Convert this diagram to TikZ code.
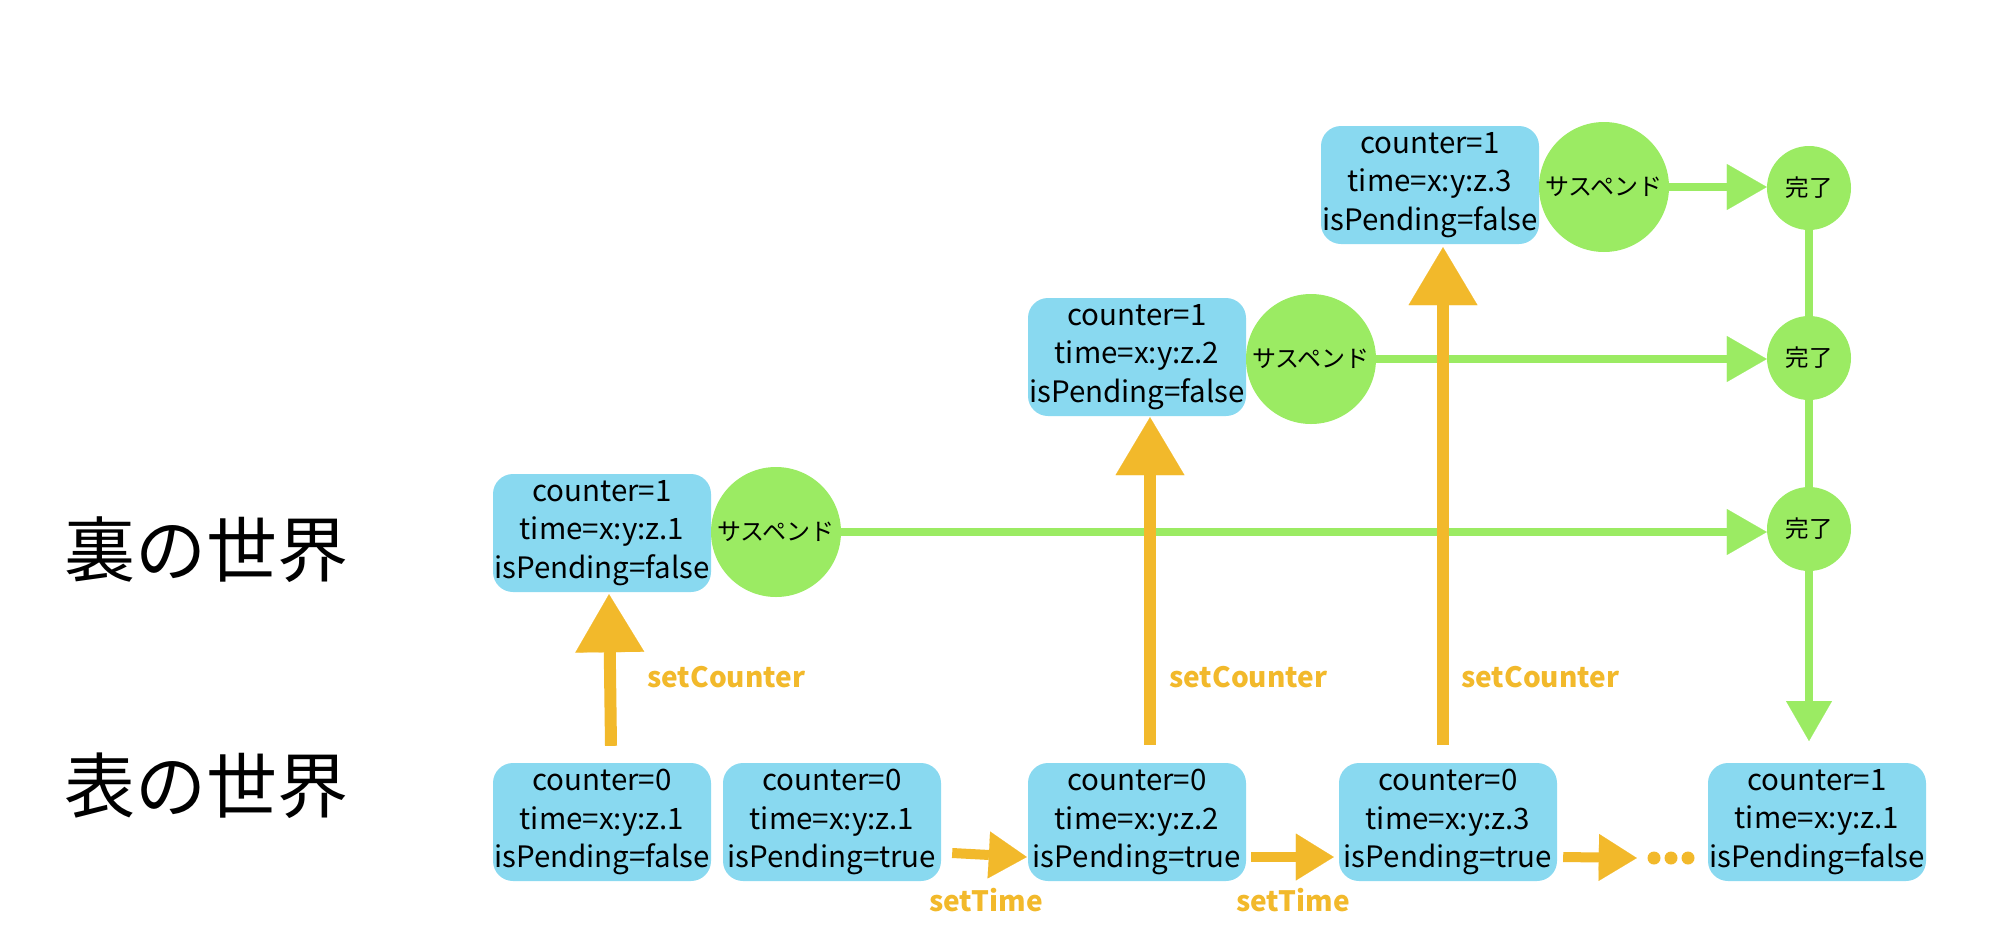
\documentclass[tikz,border=0pt]{standalone}
\usepackage{fontspec}
\setmainfont{Noto Sans CJK JP}
\usetikzlibrary{arrows.meta}
\definecolor{boxblue}{RGB}{137,217,240}
\definecolor{sgreen}{RGB}{155,235,99}
\definecolor{org}{RGB}{242,185,43}
\tikzset{
  stbox/.style={fill=boxblue, rounded corners=20pt, minimum width=218pt, minimum height=118pt, inner sep=0pt, align=center, font=\fontsize{29.5}{38.5}\selectfont},
  susp/.style={circle, fill=sgreen, minimum size=130pt, inner sep=0pt, font=\fontsize{24}{28}\selectfont},
  donec/.style={circle, fill=sgreen, minimum size=84pt, inner sep=0pt, font=\fontsize{23.5}{28}\selectfont},
  garrow/.style={draw=sgreen, line width=8pt, -{Triangle[length=40pt,width=46pt,line width=0.1pt]}},
  gline/.style={draw=sgreen, line width=8pt},
  oup/.style={draw=org, line width=12pt, -{Triangle[length=58pt,width=69pt,line width=0.1pt]}},
  oright/.style={draw=org, line width=10pt, -{Triangle[length=38pt,width=47pt,line width=0.1pt]}},
  lbl/.style={text=org, font=\fontsize{28}{34}\selectfont\bfseries, inner sep=0pt},
  wtitle/.style={font=\fontsize{71}{80}\selectfont, inner sep=0pt}
}
\begin{document}
\begin{tikzpicture}[x=1pt,y=-1pt]
\useasboundingbox (0,0) rectangle (1992,924);
% titles
\node[wtitle] (t1) at (206,550) {裏の世界};
\node[wtitle] (t2) at (206,786) {表の世界};
% completion circles
\node[donec] (d3) at (1809,188) {完了};
\node[donec] (d2) at (1809,358) {完了};
\node[donec] (d1) at (1809,529) {完了};
% upper boxes
\node[stbox] (b1) at (602,533) {counter=1\\time=x:y:z.1\\isPending=false};
\node[stbox] (b2) at (1137,357) {counter=1\\time=x:y:z.2\\isPending=false};
\node[stbox] (b3) at (1430,185) {counter=1\\time=x:y:z.3\\isPending=false};
\node[susp] (s1) at (776,532) {サスペンド};
\node[susp] (s2) at (1311,359) {サスペンド};
\node[susp] (s3) at (1604,187) {サスペンド};
% lower boxes
\node[stbox] (bb1) at (602,822) {counter=0\\time=x:y:z.1\\isPending=false};
\node[stbox] (bb2) at (832,822) {counter=0\\time=x:y:z.1\\isPending=true};
\node[stbox] (bb3) at (1137,822) {counter=0\\time=x:y:z.2\\isPending=true};
\node[stbox] (bb4) at (1448,822) {counter=0\\time=x:y:z.3\\isPending=true};
\node[stbox] (bb5) at (1817,822) {counter=1\\time=x:y:z.1\\isPending=false};
\node[inner sep=0pt, minimum width=48pt, minimum height=12pt] (dots) at (1671,858) {};
\foreach \dx in {-17,0,17} \fill[org] ([xshift=\dx pt]dots.center) circle (6.5pt);
\coordinate (gtip) at (1809,741);
% green arrows
\draw[garrow] (s1.east) -- (s1.east -| d1.west);
\draw[garrow] (s2.east) -- (s2.east -| d2.west);
\draw[garrow] (s3.east) -- (s3.east -| d3.west);
\draw[gline] (d3.south) -- (d2.north);
\draw[gline] (d2.south) -- (d1.north);
\draw[garrow] (d1.south) -- (gtip);
% orange up arrows
\draw[oup] ([xshift=9pt,yshift=17pt]bb1.north) -- ([xshift=7pt,yshift=-2pt]b1.south);
\draw[oup] ([xshift=13pt,yshift=18pt]bb3.north) -- ([xshift=13pt,yshift=-1pt]b2.south);
\draw[oup] ([xshift=-5pt,yshift=18pt]bb4.north) -- ([xshift=13pt,yshift=-3pt]b3.south);
% orange right arrows
\draw[oright] ([xshift=11pt,yshift=-31pt]bb2.east) -- ([xshift=-1pt,yshift=-35pt]bb3.west);
\draw[oright] ([xshift=5pt,yshift=-35pt]bb3.east) -- ([xshift=-5pt,yshift=-35pt]bb4.west);
\draw[oright] ([xshift=6pt,yshift=-35pt]bb4.east) -- ([xshift=-10pt]dots.west);
% labels
\node[lbl, anchor=west] (l1) at (647,677) {setCounter};
\node[lbl, anchor=west] (l2) at (1169,677) {setCounter};
\node[lbl, anchor=west] (l3) at (1461,677) {setCounter};
\node[lbl] (l4) at (986,900) {setTime};
\node[lbl] (l5) at (1293,900) {setTime};
\end{tikzpicture}
\end{document}
